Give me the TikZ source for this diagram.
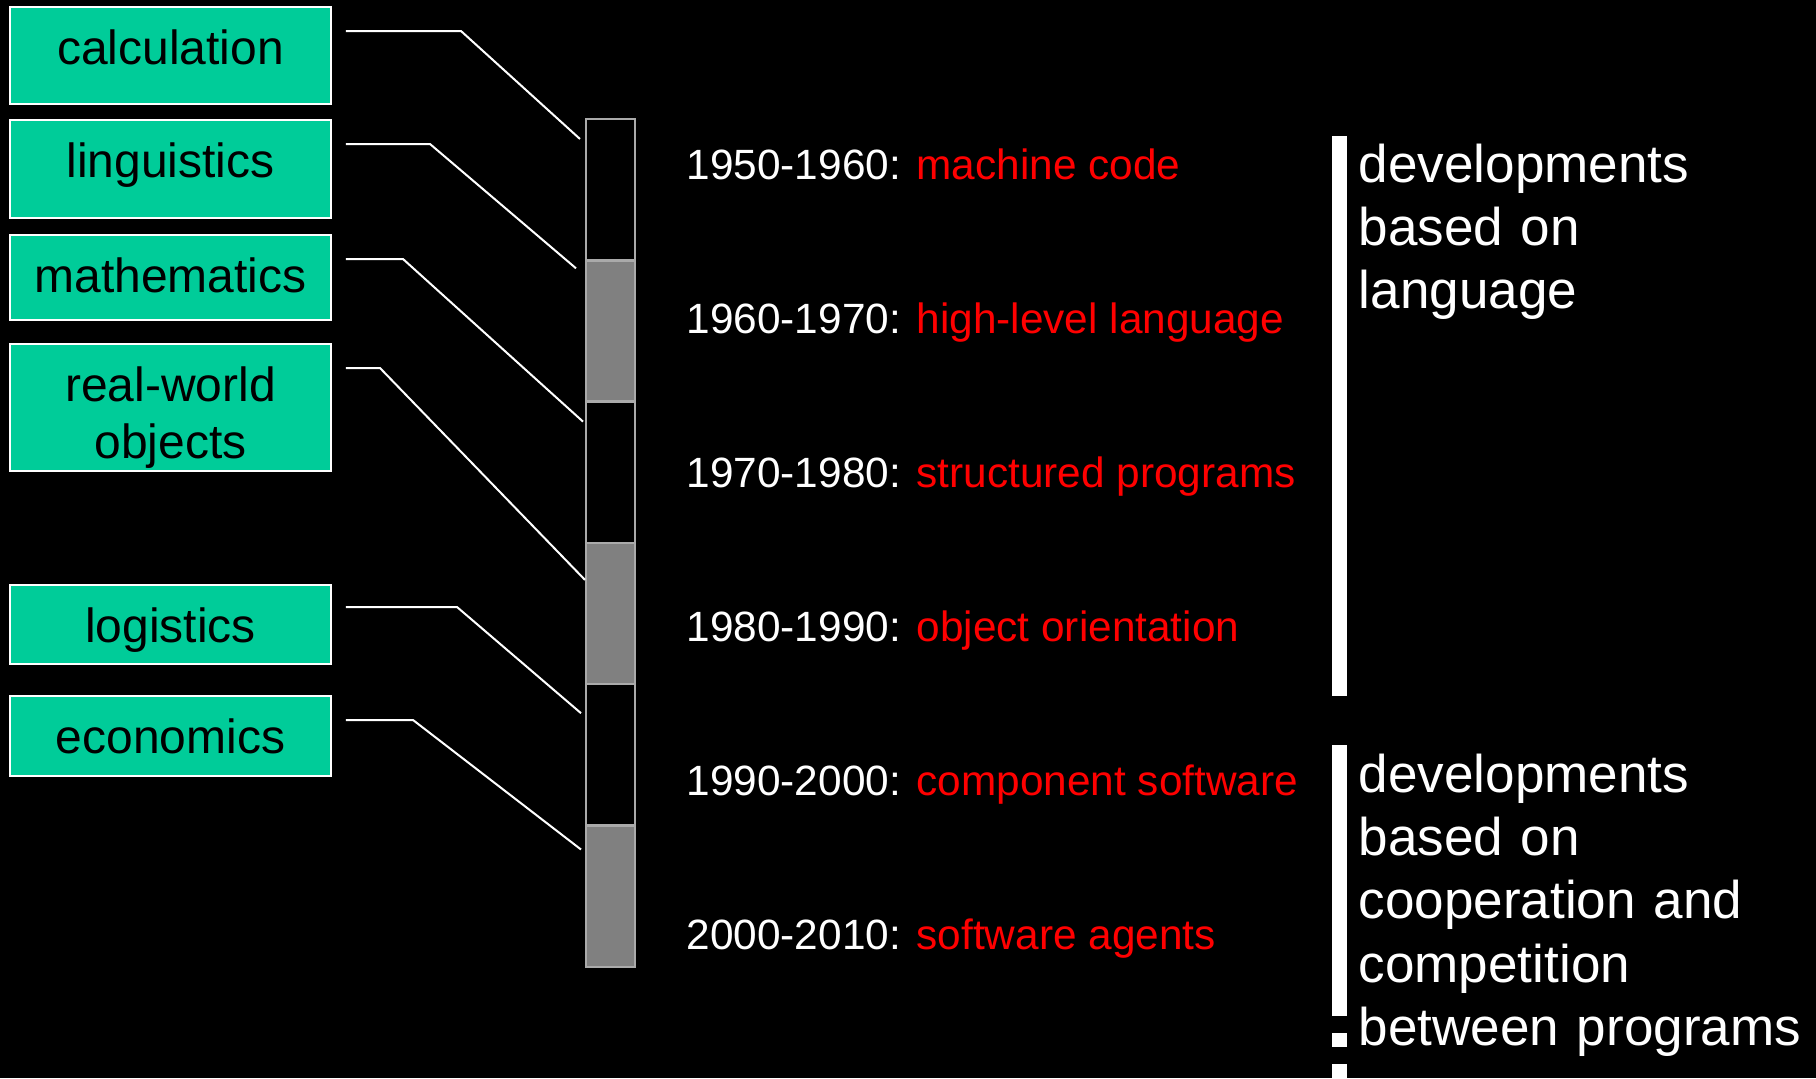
\documentclass[tikz,border=0pt]{standalone}
\usepackage{fontspec}
\setmainfont{Liberation Sans}
\usetikzlibrary{positioning}
\definecolor{fieldgreen}{RGB}{0,204,153}
\definecolor{periodgray}{RGB}{128,128,128}
\definecolor{periodline}{RGB}{170,170,170}

\begin{document}
\begin{tikzpicture}[x=0.1mm, y=-0.1mm,
    field/.style={draw=white, line width=0.2mm, fill=fieldgreen, text width=32.1mm, align=center,
        inner sep=0pt, outer sep=0pt, text height=5.7mm, font=\fontsize{13.65pt}{16.5pt}\selectfont},
    period/.style={draw=periodline, line width=0.25mm, minimum width=4.9mm, minimum height=14.13mm,
        inner sep=0pt, outer sep=0pt},
    link/.style={draw=white, line width=0.2mm},
    era/.style={text=white, anchor=base west, inner sep=0pt, font=\fontsize{12.05pt}{14pt}\selectfont},
    group/.style={text=white, anchor=base west, inner sep=0pt, text width=46mm, align=left,
        font=\fontsize{15.1pt}{18.05pt}\selectfont}]
    \useasboundingbox (0,0) rectangle (1816,1078);
    \fill[black] (0,0) rectangle (1816,1078);

    % Fields
    \node[field, text depth=4mm, anchor=north west] (calc) at (10,7) {calculation};
    \node[field, text depth=4.1mm, below=1.6mm of calc] (ling) {linguistics};
    \node[field, text depth=2.8mm, below=1.7mm of ling] (math) {mathematics};
    \node[field, text depth=7mm, below=2.4mm of math] (real) {real-world\\objects};
    \node[field, text depth=2.2mm, below=11.4mm of real] (logi) {logistics};
    \node[field, text depth=2.3mm, below=3.2mm of logi] (econ) {economics};

    % Time bar
    \node[period, anchor=north west] (p1) at (586,119) {};
    \node[period, fill=periodgray, below=0pt of p1] (p2) {};
    \node[period, below=0pt of p2] (p3) {};
    \node[period, fill=periodgray, below=0pt of p3] (p4) {};
    \node[period, below=0pt of p4] (p5) {};
    \node[period, fill=periodgray, below=0pt of p5] (p6) {};

    \draw[link] ([shift={(15,24)}]calc.north east) -- ++(115,0) -- ([shift={(-6,20)}]p1.north west);
    \draw[link] ([shift={(15,24)}]ling.north east) -- ++(84,0) -- ([shift={(-10,8)}]p2.north west);
    \draw[link] ([shift={(15,24)}]math.north east) -- ++(57,0) -- ([shift={(-3,20)}]p3.north west);
    \draw[link] ([shift={(15,24)}]real.north east) -- ++(34,0) -- ([shift={(-1,37)}]p4.north west);
    \draw[link] ([shift={(15,22)}]logi.north east) -- ++(111,0) -- ([shift={(-5,29)}]p5.north west);
    \draw[link] ([shift={(15,24)}]econ.north east) -- ++(67,0) -- ([shift={(-5,24)}]p6.north west);

    % Eras
    \node[era] (e1) at (686,179) {1950-1960: \textcolor{red}{machine code}};
    \node[era] (e2) at (686,333) {1960-1970: \textcolor{red}{high-level language}};
    \node[era] (e3) at (686,487) {1970-1980: \textcolor{red}{structured programs}};
    \node[era] (e4) at (686,641) {1980-1990: \textcolor{red}{object orientation}};
    \node[era] (e5) at (686,795) {1990-2000: \textcolor{red}{component software}};
    \node[era] (e6) at (686,949) {2000-2010: \textcolor{red}{software agents}};

    % Groups
    \fill[white] (1332,136) rectangle (1347,696);
    \fill[white] (1332,745) rectangle (1347,1016);
    \fill[white] (1332,1033) rectangle (1347,1047);
    \fill[white] (1332,1064) rectangle (1347,1078);
    \node[group] (lang) at (1358,182) {developments\\based on\\language};
    \node[group] (coop) at (1358,792) {developments\\based on\\cooperation and\\competition\\between programs};
\end{tikzpicture}
\end{document}
